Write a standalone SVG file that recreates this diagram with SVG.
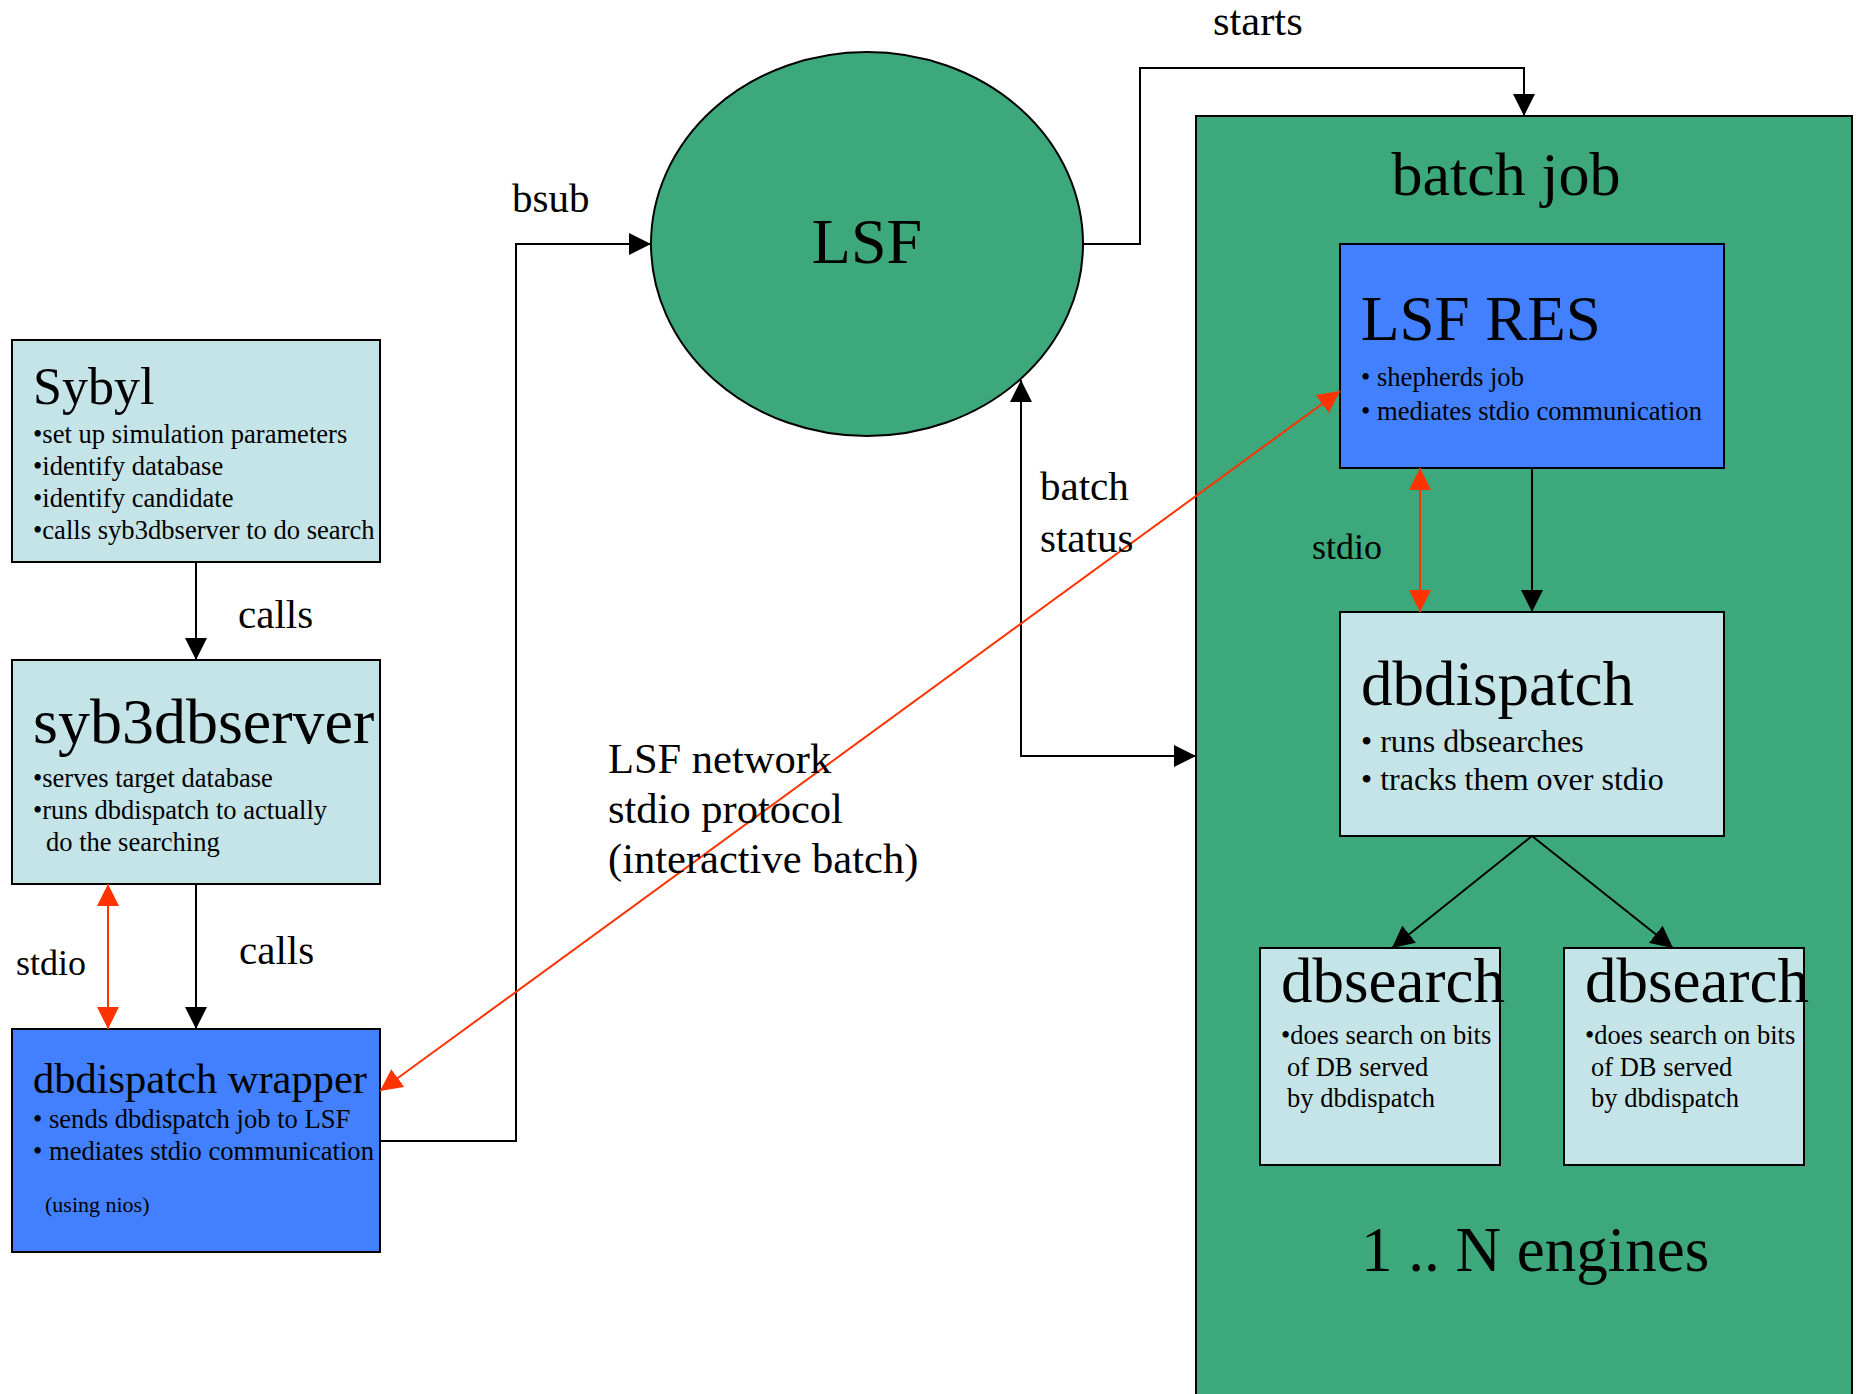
<svg xmlns="http://www.w3.org/2000/svg" width="1860" height="1394" viewBox="0 0 1860 1394">
<style>
text{font-family:"Liberation Serif","Times New Roman",serif;fill:#000}
.box{stroke:#000;stroke-width:2}
.cyan{fill:#c5e4e7}
.blue{fill:#4280ff}
.green{fill:#3da87b}
.k{fill:none;stroke:#000;stroke-width:2}
.r{fill:none;stroke:#ff3300;stroke-width:2}
.t52{font-size:52px}.t64{font-size:64px}.t63{font-size:63px}.t62{font-size:62px}.t42{font-size:42.5px}.t41{font-size:41px}.t36{font-size:36px}.t27{font-size:26.6px}.t26{font-size:26.5px}.t32{font-size:32px}.t22{font-size:22px}
</style>
<defs>
<marker id="ab" markerUnits="userSpaceOnUse" markerWidth="22" markerHeight="22" refX="20" refY="10" orient="auto-start-reverse" viewBox="0 0 20 20"><path d="M0,0 L20,10 L0,20 z" fill="#000"/></marker>
<marker id="ar" markerUnits="userSpaceOnUse" markerWidth="22" markerHeight="22" refX="20" refY="10" orient="auto-start-reverse" viewBox="0 0 20 20"><path d="M0,0 L20,10 L0,20 z" fill="#ff3300"/></marker>
</defs>
<rect width="1860" height="1394" fill="#fff"/>

<g id="batchjob">
<rect class="box green" x="1196" y="116" width="656" height="1300"/>
<text class="t62" x="1506" y="195" text-anchor="middle">batch job</text>
<text class="t63" x="1361" y="1271">1 .. N engines</text>
</g>

<g id="sybyl">
<rect class="box cyan" x="12" y="340" width="368" height="222"/>
<text class="t52" x="33" y="404">Sybyl</text>
<text class="t27" x="33" y="443">•set up simulation parameters</text>
<text class="t27" x="33" y="475">•identify database</text>
<text class="t27" x="33" y="507">•identify candidate</text>
<text class="t27" x="33" y="539">•calls syb3dbserver to do search</text>
</g>

<g id="syb3dbserver">
<rect class="box cyan" x="12" y="660" width="368" height="224"/>
<text class="t64" x="33" y="743">syb3dbserver</text>
<text class="t26" x="33" y="787">•serves target database</text>
<text class="t26" x="33" y="819">•runs dbdispatch to actually</text>
<text class="t26" x="46" y="851">do the searching</text>
</g>

<g id="wrapper">
<rect class="box blue" x="12" y="1029" width="368" height="223"/>
<text class="t42" x="33" y="1093">dbdispatch wrapper</text>
<text class="t27" x="33" y="1128">• sends dbdispatch job to LSF</text>
<text class="t27" x="33" y="1160">• mediates stdio communication</text>
<text class="t22" x="45" y="1212">(using nios)</text>
</g>

<g id="lsf">
<ellipse class="box green" cx="867" cy="244" rx="216" ry="192"/>
<text class="t64" x="867" y="263" text-anchor="middle">LSF</text>
</g>

<g id="lsfres">
<rect class="box blue" x="1340" y="244" width="384" height="224"/>
<text class="t63" x="1361" y="340">LSF RES</text>
<text class="t27" x="1361" y="386">• shepherds job</text>
<text class="t27" x="1361" y="420">• mediates stdio communication</text>
</g>

<g id="dbdispatch">
<rect class="box cyan" x="1340" y="612" width="384" height="224"/>
<text class="t63" x="1361" y="705">dbdispatch</text>
<text class="t32" x="1361" y="752">• runs dbsearches</text>
<text class="t32" x="1361" y="790">• tracks them over stdio</text>
</g>

<g id="dbsearch1">
<rect class="box cyan" x="1260" y="948" width="240" height="217"/>
<text class="t63" x="1281" y="1002">dbsearch</text>
<text class="t26" x="1281" y="1044">•does search on bits</text>
<text class="t26" x="1287" y="1076">of DB served</text>
<text class="t26" x="1287" y="1107">by dbdispatch</text>
</g>

<g id="dbsearch2">
<rect class="box cyan" x="1564" y="948" width="240" height="217"/>
<text class="t63" x="1585" y="1002">dbsearch</text>
<text class="t26" x="1585" y="1044">•does search on bits</text>
<text class="t26" x="1591" y="1076">of DB served</text>
<text class="t26" x="1591" y="1107">by dbdispatch</text>
</g>

<g id="connectors">
<path class="k" d="M196,562 V660" marker-end="url(#ab)"/>
<path class="k" d="M196,884 V1029" marker-end="url(#ab)"/>
<path class="r" d="M108,884 V1029" marker-start="url(#ar)" marker-end="url(#ar)"/>
<path class="k" d="M380,1141 H516 V244 H651" marker-end="url(#ab)"/>
<path class="k" d="M1083,244 H1140 V68 H1524 V116" marker-end="url(#ab)"/>
<path class="k" d="M1021,380 V756 H1196" marker-start="url(#ab)" marker-end="url(#ab)"/>
<path class="r" d="M1340,391 L380,1091" marker-start="url(#ar)" marker-end="url(#ar)"/>
<path class="k" d="M1532,468 V612" marker-end="url(#ab)"/>
<path class="r" d="M1420,468 V612" marker-start="url(#ar)" marker-end="url(#ar)"/>
<path class="k" d="M1532,836 L1392,948" marker-end="url(#ab)"/>
<path class="k" d="M1532,836 L1673,948" marker-end="url(#ab)"/>
<text class="t41" x="238" y="628">calls</text>
<text class="t41" x="239" y="964">calls</text>
<text class="t36" x="16" y="975">stdio</text>
<text class="t41" x="512" y="212">bsub</text>
<text class="t42" x="1213" y="35">starts</text>
<text class="t41" x="1040" y="500">batch</text>
<text class="t41" x="1040" y="552">status</text>
<text class="t36" x="1312" y="559">stdio</text>
<text class="t42" x="608" y="773">LSF network</text>
<text class="t42" x="608" y="823">stdio protocol</text>
<text class="t42" x="608" y="873">(interactive batch)</text>
</g>
</svg>
